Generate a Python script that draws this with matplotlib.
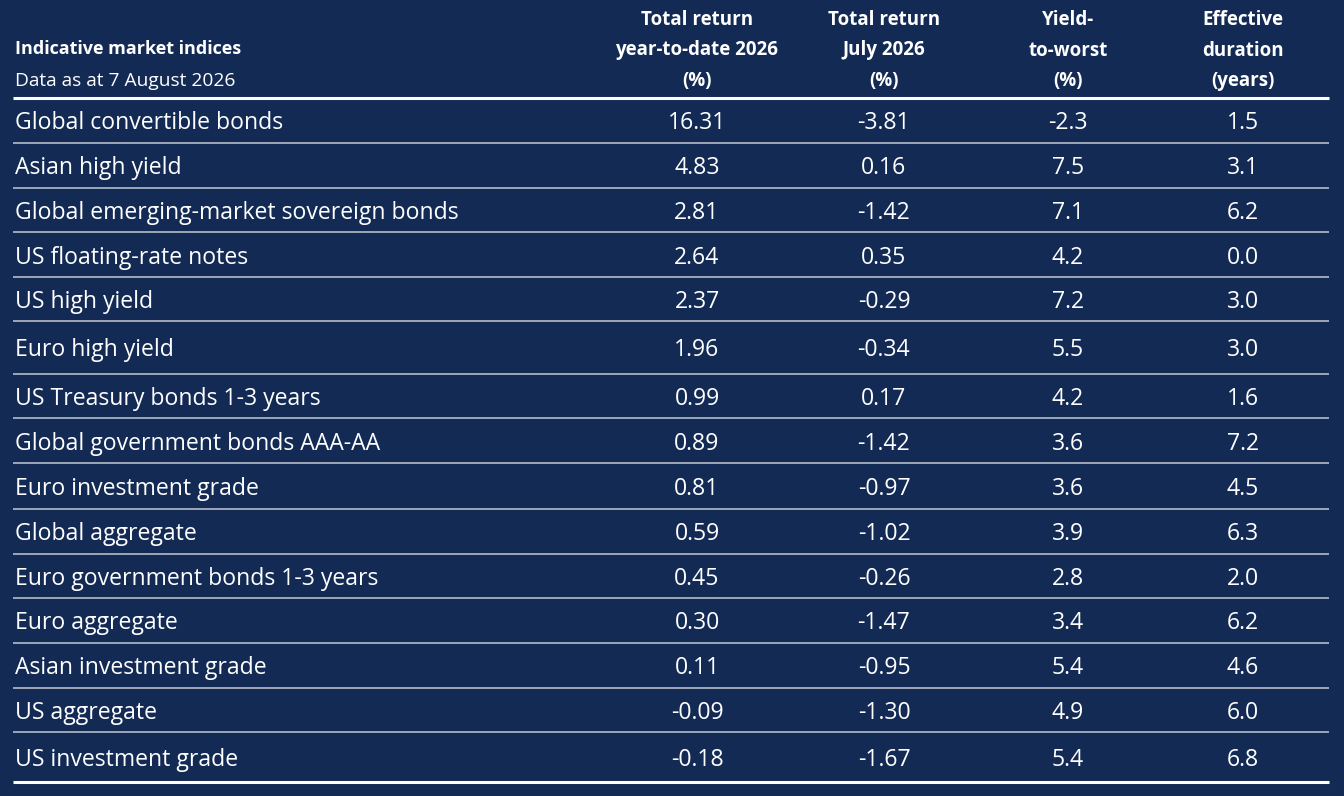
import matplotlib.pyplot as plt

# table content
indices = ['Global convertible bonds', 'Asian high yield', 'Global emerging-market sovereign bonds',
           'US floating-rate notes', 'US high yield', 'Euro high yield', 'US Treasury bonds 1-3 years',
           'Global government bonds AAA-AA', 'Euro investment grade', 'Global aggregate',
           'Euro government bonds 1-3 years', 'Euro aggregate', 'Asian investment grade',
           'US aggregate', 'US investment grade']
ytd_2026 = ['16.31', '4.83', '2.81', '2.64', '2.37', '1.96', '0.99', '0.89', '0.81', '0.59',
            '0.45', '0.30', '0.11', '-0.09', '-0.18']
july_2026 = ['-3.81', '0.16', '-1.42', '0.35', '-0.29', '-0.34', '0.17', '-1.42', '-0.97', '-1.02',
             '-0.26', '-1.47', '-0.95', '-1.30', '-1.67']
yield_to_worst = ['-2.3', '7.5', '7.1', '4.2', '7.2', '5.5', '4.2', '3.6', '3.6', '3.9',
                  '2.8', '3.4', '5.4', '4.9', '5.4']
eff_duration = ['1.5', '3.1', '6.2', '0.0', '3.0', '3.0', '1.6', '7.2', '4.5', '6.3',
                '2.0', '6.2', '4.6', '6.0', '6.8']
col_headers = ['Total return\nyear-to-date 2026\n(%)', 'Total return\nJuly 2026\n(%)',
               'Yield-\nto-worst\n(%)', 'Effective\nduration\n(years)']
title = 'Indicative market indices'
subtitle = 'Data as at 7 August 2026'

bg = '#132a54'
fg = 'white'
line_col = '#c3c8d2'

W, H = 1344, 796
fig = plt.figure(figsize=(W / 100, H / 100), dpi=100, facecolor=bg)
ax = fig.add_axes([0, 0, 1, 1])
ax.set_facecolor(bg)
ax.set_xlim(0, W)
ax.set_ylim(H, 0)
ax.axis('off')

left, right = 13, 1329
col_x = [697, 884, 1068, 1243]
# row boundaries in pixels (layout only)
row_edges = [97.7, 142.7, 187.7, 232, 277, 321.3, 373.7, 418, 463, 509,
             553.7, 598, 642.7, 687.7, 732.3, 782.3]
body_font = ['Open Sans', 'DejaVu Sans']

# header
for cx, hdr in zip(col_x, col_headers):
    for i, part in enumerate(hdr.split('\n')):
        ax.text(cx, 20 + i * 30.5, part, ha='center', va='center', color=fg,
                fontsize=13.5, fontweight='bold', family=body_font)
ax.text(15, 49, title, ha='left', va='center', color=fg, fontsize=13, fontweight='bold', family=body_font)
ax.text(15, 80.5, subtitle, ha='left', va='center', color=fg, fontsize=13.8, family=body_font)
ax.plot([left, right], [row_edges[0], row_edges[0]], color='white', lw=2.2, solid_capstyle='butt')

# rows
for i, name in enumerate(indices):
    yc = (row_edges[i] + row_edges[i + 1]) / 2 + 3
    ax.text(15, yc, name, ha='left', va='center', color=fg, fontsize=16.6, family=body_font)
    vals = [ytd_2026[i], july_2026[i], yield_to_worst[i], eff_duration[i]]
    for cx, v in zip(col_x, vals):
        ax.text(cx, yc, v, ha='center', va='center', color=fg, fontsize=16.6, family=body_font)
    yb = row_edges[i + 1]
    if i < len(indices) - 1:
        ax.plot([left, right], [yb, yb], color=line_col, lw=1.1, solid_capstyle='butt')
    else:
        ax.plot([left, right], [yb, yb], color='white', lw=2.2, solid_capstyle='butt')

fig.savefig('out.png', dpi=100, facecolor=bg)
